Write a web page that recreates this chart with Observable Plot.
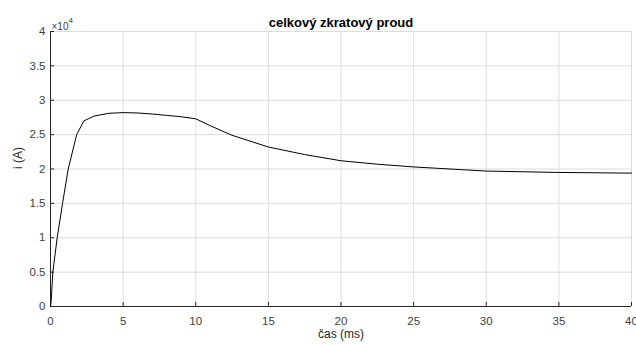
<!DOCTYPE html>
<html>
<head>
<meta charset="utf-8">
<script src="https://cdn.jsdelivr.net/npm/d3@7"></script>
<script src="https://cdn.jsdelivr.net/npm/@observablehq/plot@0.6"></script>
<style>
  html, body { margin: 0; padding: 0; background: #fff; }
  #chart svg { display: block; }
</style>
</head>
<body>
<div id="chart"></div>
<script>
// time in ms
const time = [0, 0.05, 0.16, 0.46, 0.83, 1.22, 1.8, 2.3, 3, 4, 5, 6, 7, 8, 9, 10, 11, 12.5, 15, 17.5, 20, 22.5, 25, 30, 35, 40];
// current in A
const current = [0, 900, 5000, 10000, 15000, 20000, 25000, 27000, 27700, 28100, 28200, 28150, 28000, 27800, 27600, 27300, 26300, 24900, 23200, 22100, 21200, 20700, 20300, 19700, 19500, 19400];
const xTicks = [0, 5, 10, 15, 20, 25, 30, 35, 40];
const yTicks = [0, 5000, 10000, 15000, 20000, 25000, 30000, 35000, 40000];
const title = "celkový zkratový proud";
const xLabel = "čas (ms)";
const yLabel = "i (A)";
const expBase = "×10";
const expPower = "4";

const data = time.map((t, i) => ({t, i: current[i]}));

const plot = Plot.plot({
  width: 636,
  height: 345,
  marginLeft: 50,
  marginRight: 5,
  marginTop: 31,
  marginBottom: 39,
  style: {fontFamily: "Liberation Sans, Arial, Helvetica, sans-serif", fontSize: "11.5px", background: "#fff"},
  x: {domain: [0, 40]},
  y: {domain: [0, 40000]},
  marks: [
    Plot.gridX(xTicks, {stroke: "#dcdcdc", strokeOpacity: 1}),
    Plot.gridY(yTicks, {stroke: "#dcdcdc", strokeOpacity: 1}),
    Plot.axisX(xTicks, {tickSize: -4, stroke: "#262626", color: "#404040", tickPadding: 14, label: null, fontSize: 11.5}),
    Plot.axisY(yTicks, {tickSize: -4, stroke: "#262626", color: "#404040", tickPadding: 9, tickFormat: d => d / 10000, label: null, fontSize: 11.5}),
    Plot.ruleY([0], {stroke: "#262626"}),
    Plot.ruleX([0], {stroke: "#262626"}),
    Plot.line(data, {x: "t", y: "i", stroke: "#000", strokeWidth: 1}),
    Plot.text([title], {frameAnchor: "top", dy: -14, fontWeight: "bold", fontSize: 13, fill: "#000"}),
    Plot.text([xLabel], {frameAnchor: "bottom", dy: 31, fontSize: 12, fill: "#262626"}),
    Plot.text([yLabel], {frameAnchor: "left", dx: -32, rotate: -90, fontSize: 12, fill: "#262626"}),
    Plot.text([expBase], {frameAnchor: "top-left", dx: 1, dy: -9, fontSize: 10, fill: "#404040", textAnchor: "start"}),
    Plot.text([expPower], {frameAnchor: "top-left", dx: 18, dy: -14, fontSize: 8, fill: "#404040", textAnchor: "start"})
  ]
});
document.getElementById("chart").appendChild(plot);
</script>
</body>
</html>
